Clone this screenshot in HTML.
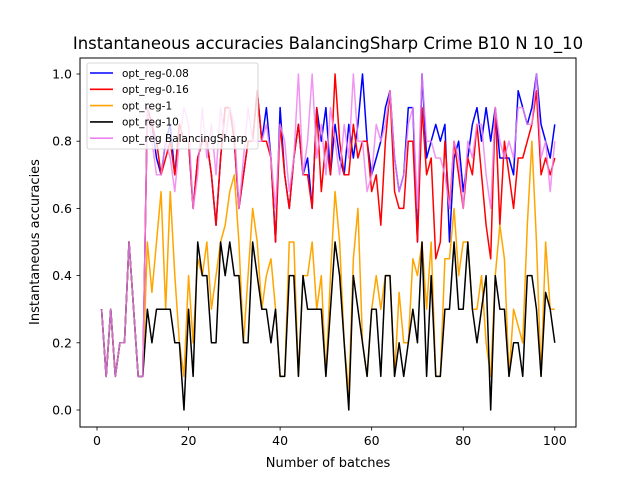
<!DOCTYPE html>
<html><head><meta charset="utf-8"><style>
body{margin:0;background:#fff;}
svg{display:block;font-family:"DejaVu Sans","Liberation Sans",sans-serif;}
</style></head><body>
<svg id="chart" width="640" height="480" viewBox="0 0 640 480" xmlns="http://www.w3.org/2000/svg">
<rect x="0" y="0" width="640" height="480" fill="#fff"/>
<text x="328" y="49" font-size="16.5" text-anchor="middle">Instantaneous accuracies BalancingSharp Crime B10 N 10_10</text>
<g id="plot"></g>
<rect x="80" y="58" width="496" height="369" fill="none" stroke="#000" stroke-width="1"/>
<g id="axes"></g>
<text x="328" y="467" font-size="13" text-anchor="middle">Number of batches</text>
<text transform="translate(39,242) rotate(-90)" font-size="13" text-anchor="middle">Instantaneous accuracies</text>
<g id="legend"></g>
</svg>
<script>
const xTicks=[0,20,40,60,80,100];
const yTicks=[0.0,0.2,0.4,0.6,0.8,1.0];
const yTickLabels=["0.0","0.2","0.4","0.6","0.8","1.0"];
const seriesNames=["opt_reg-0.08","opt_reg-0.16","opt_reg-1","opt_reg-10","opt_reg BalancingSharp"];
const seriesColors=["#0000ff","#ff0000","#ffa500","#000000","#ee82ee"];
const first10=[0.3,0.1,0.3,0.1,0.2,0.2,0.5,0.3,0.1,0.1];
const reg008=first10.concat([0.9,0.85,0.75,0.7,0.8,0.85,0.7,0.85,0.8,0.8,0.6,0.75,0.8,0.8,0.7,0.55,0.75,0.9,0.9,0.8,0.6,0.7,0.8,0.8,0.95,0.8,0.9,0.75,0.5,0.9,0.7,0.6,0.75,0.85,0.7,0.75,0.6,0.9,0.8,0.9,0.7,0.85,0.75,0.7,0.85,0.75,0.85,1.0,0.8,0.7,0.75,0.8,0.9,0.95,0.75,0.65,0.7,0.9,0.9,0.5,1.0,0.75,0.8,0.85,0.8,0.85,0.5,0.75,0.8,0.65,0.75,0.85,0.9,0.8,0.9,0.8,0.9,0.75,0.75,0.75,0.7,0.95,0.9,0.85,0.9,1.0,0.85,0.8,0.75,0.85]);
const reg016=first10.concat([0.9,0.85,0.8,0.7,0.75,0.8,0.7,0.85,0.8,0.8,0.6,0.75,0.8,0.8,0.7,0.55,0.75,0.9,0.9,0.8,0.6,0.7,0.8,0.8,0.95,0.8,0.8,0.75,0.5,0.85,0.7,0.6,0.75,0.85,0.7,0.7,0.6,0.9,0.65,0.8,0.7,1.0,0.8,0.7,0.7,0.85,0.75,0.8,0.8,0.65,0.7,0.55,0.8,0.95,0.65,0.6,0.6,0.8,0.8,0.5,0.9,0.7,0.75,0.45,0.5,0.8,0.6,0.8,0.7,0.6,0.75,0.7,0.85,0.7,0.55,0.45,0.9,0.55,0.8,0.7,0.6,0.75,0.75,0.8,0.85,0.95,0.7,0.75,0.7,0.75]);
const reg1=first10.concat([0.5,0.35,0.5,0.65,0.3,0.65,0.4,0.2,0.1,0.4,0.2,0.45,0.4,0.5,0.3,0.4,0.5,0.55,0.65,0.7,0.5,0.2,0.4,0.6,0.5,0.3,0.4,0.45,0.3,0.1,0.1,0.5,0.5,0.1,0.4,0.4,0.5,0.3,0.4,0.1,0.4,0.65,0.5,0.2,0.05,0.45,0.6,0.2,0.1,0.3,0.4,0.3,0.4,0.4,0.1,0.35,0.2,0.2,0.45,0.4,0.5,0.3,0.5,0.1,0.1,0.45,0.45,0.6,0.4,0.5,0.5,0.3,0.3,0.4,0.2,0.1,0.4,0.55,0.45,0.1,0.3,0.25,0.2,0.55,0.8,0.5,0.1,0.5,0.3,0.3]);
const reg10=first10.concat([0.3,0.2,0.3,0.3,0.3,0.3,0.2,0.2,0.0,0.3,0.1,0.5,0.4,0.4,0.2,0.2,0.5,0.4,0.5,0.4,0.4,0.2,0.2,0.5,0.4,0.3,0.3,0.2,0.3,0.1,0.1,0.4,0.4,0.1,0.4,0.3,0.3,0.3,0.3,0.1,0.3,0.5,0.4,0.2,0.0,0.4,0.3,0.2,0.1,0.3,0.3,0.1,0.4,0.4,0.1,0.2,0.1,0.2,0.3,0.2,0.5,0.1,0.4,0.1,0.1,0.3,0.3,0.5,0.3,0.3,0.5,0.3,0.2,0.3,0.4,0.0,0.4,0.3,0.3,0.1,0.2,0.2,0.1,0.4,0.4,0.3,0.1,0.35,0.3,0.2]);
const regBS=first10.concat([0.9,0.8,0.7,0.7,0.8,0.75,0.65,0.8,0.9,0.85,0.6,0.7,0.9,0.75,0.85,0.7,0.9,0.8,0.9,0.85,0.6,0.75,0.9,0.8,0.8,0.8,0.85,0.75,0.6,0.85,0.8,0.65,0.75,1.0,0.7,0.8,1.0,0.75,0.85,0.7,0.9,0.8,0.7,0.85,0.75,1.0,0.8,0.8,0.65,0.7,0.85,0.8,0.85,0.95,0.75,0.65,0.7,0.85,0.9,0.6,1.0,0.8,0.8,0.75,0.75,0.7,0.6,0.8,0.75,0.6,0.8,0.75,0.85,0.85,0.7,0.6,0.9,0.8,0.75,0.8,0.75,0.9,0.9,0.85,0.85,1.0,0.75,0.8,0.65,0.8]);
const seriesValues=[reg008,reg016,reg1,reg10,regBS];

const NS="http://www.w3.org/2000/svg";
function xs(v){return 97+v*4.5778;}
function ys(v){return 410-v*336;}
function mk(tag,attrs,parent){const e=document.createElementNS(NS,tag);for(const k in attrs)e.setAttribute(k,attrs[k]);parent.appendChild(e);return e;}
const plot=document.getElementById('plot');
const axes=document.getElementById('axes');
const drawOrder=[0,1,2,3,4];
drawOrder.forEach(function(s){
  const vals=seriesValues[s];
  const pts=vals.map(function(v,i){return xs(i+1).toFixed(2)+','+ys(v).toFixed(2);}).join(' ');
  const pl=mk('polyline',{points:pts,fill:'none',stroke:seriesColors[s],'stroke-width':1.5,'stroke-linejoin':'round','stroke-opacity':s===4?0.85:1},plot);
  
  
});
xTicks.forEach(function(t){
  const x=xs(t);
  const tk=mk('line',{x1:x,x2:x,y1:427,y2:430.5,stroke:'#000','stroke-width':0.8},axes);
  
  
  const tx=mk('text',{x:x,y:445,'font-size':12.5,'text-anchor':'middle'},axes);
  tx.textContent=String(t);
  
  
});
yTicks.forEach(function(t,i){
  const y=ys(t);
  const tk=mk('line',{x1:76.5,x2:80,y1:y,y2:y,stroke:'#000','stroke-width':0.8},axes);
  
  
  const tx=mk('text',{x:72,y:y+4.5,'font-size':12.5,'text-anchor':'end'},axes);
  tx.textContent=yTickLabels[i];
  
  
});
const lg=document.getElementById('legend');
const box=mk('rect',{x:87,y:63,width:171,height:86,rx:2,fill:'#fff','fill-opacity':0.8,stroke:'#ccc','stroke-width':0.8},lg);


seriesNames.forEach(function(n,i){
  const y=73+i*16.3;
  const g=mk('g',{},lg);
  
  
  mk('line',{x1:90,x2:113,y1:y,y2:y,stroke:seriesColors[i],'stroke-width':1.6},g);
  const t=mk('text',{x:122,y:y+3.8,'font-size':10.5},g);
  t.textContent=n;
});
</script>
</body></html>
